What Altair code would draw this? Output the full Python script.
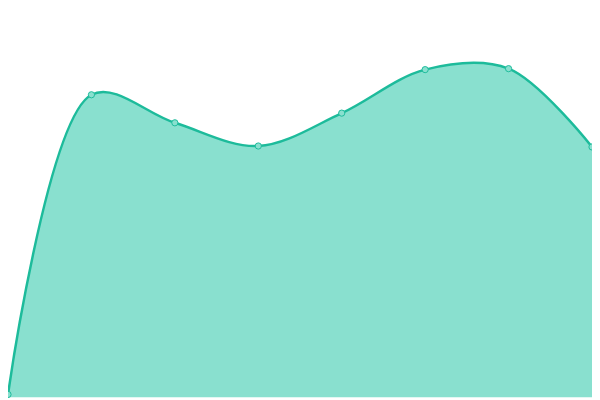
import altair as alt
import pandas as pd

xs = [0, 1, 2, 3, 4, 5, 6, 7]
values = [3, 313, 284, 260, 294, 339, 340, 259]

df = pd.DataFrame({"x": xs, "v": values})

W, H = 592, 392
xscale = alt.Scale(domain=[0, 7], nice=False, zero=False)
yscale = alt.Scale(domain=[0, 400], nice=False)

base = alt.Chart(df).encode(
    x=alt.X("x:Q", scale=xscale, axis=None),
    y=alt.Y("v:Q", scale=yscale, axis=None),
)

area = base.mark_area(interpolate="catmull-rom", color="#89e0cf", opacity=1)
line = base.mark_line(interpolate="catmull-rom", color="#1dbb9b", strokeWidth=2.5)
pts = base.mark_point(filled=True, fill="#89e0cf", stroke="#1dbb9b", strokeWidth=1, size=40, opacity=1)

chart = (area + line + pts).properties(
    width=W, height=H, padding=0, autosize=alt.AutoSizeParams(type="none")
).configure_view(stroke=None)

chart.save("out.html", embed_options={"renderer": "svg", "actions": False})
